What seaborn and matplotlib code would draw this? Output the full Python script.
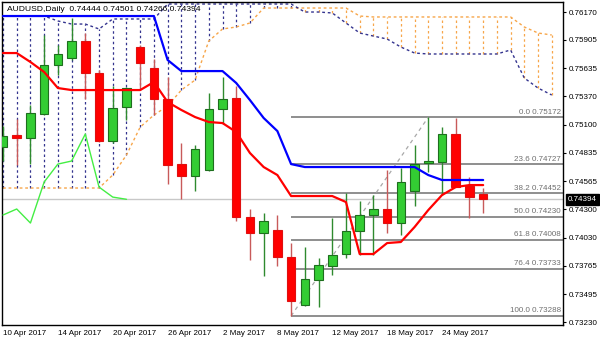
import numpy as np
import pandas as pd
import matplotlib
matplotlib.use("Agg")
import matplotlib.pyplot as plt
import matplotlib.transforms as mtransforms
import seaborn as sns

# ---------------- data ----------------
symbol_title = "AUDUSD,Daily  0.74444 0.74501 0.74266 0.74394"
tick_bars = [0, 4, 8, 12, 16, 20, 24, 28, 32]
tick_labels = ["10 Apr 2017", "14 Apr 2017", "20 Apr 2017", "26 Apr 2017",
               "2 May 2017", "8 May 2017", "12 May 2017", "18 May 2017", "24 May 2017"]

open_ = [0.74890, 0.75003, 0.74975, 0.75203, 0.75667, 0.75734, 0.75895, 0.75591, 0.74947, 0.75269,
         0.75838, 0.75639, 0.75345, 0.74728, 0.74615, 0.74672, 0.75250, 0.75354, 0.74226, 0.74074,
         0.74102, 0.73846, 0.73391, 0.73628, 0.73761, 0.73875, 0.74093, 0.74245, 0.74302, 0.74169,
         0.74472, 0.74738, 0.74747, 0.75013, 0.74520, 0.74444]
high = [0.75089, 0.75155, 0.75288, 0.75952, 0.75857, 0.76113, 0.75971, 0.75620, 0.75468, 0.75459,
        0.75857, 0.75724, 0.75554, 0.74928, 0.74909, 0.75402, 0.75554, 0.75468, 0.74302, 0.74264,
        0.74245, 0.73979, 0.73941, 0.73837, 0.74216, 0.74453, 0.74378, 0.74434, 0.74672, 0.74690,
        0.74909, 0.75172, 0.75079, 0.75165, 0.74605, 0.74501]
low = [0.74757, 0.74719, 0.74728, 0.75193, 0.75573, 0.75715, 0.75345, 0.74937, 0.74928, 0.75146,
       0.75449, 0.75193, 0.74539, 0.74396, 0.74472, 0.74662, 0.75108, 0.74188, 0.73818, 0.73666,
       0.73761, 0.73288, 0.73382, 0.73372, 0.73676, 0.73837, 0.73865, 0.73865, 0.74074, 0.74055,
       0.74330, 0.74653, 0.74434, 0.74510, 0.74216, 0.74266]
close = [0.74994, 0.74975, 0.75212, 0.75667, 0.75772, 0.75895, 0.75591, 0.74947, 0.75260, 0.75449,
         0.75686, 0.75345, 0.74719, 0.74615, 0.74871, 0.75250, 0.75345, 0.74226, 0.74074, 0.74188,
         0.73846, 0.73429, 0.73638, 0.73771, 0.73865, 0.74093, 0.74245, 0.74302, 0.74169, 0.74558,
         0.74728, 0.74757, 0.75013, 0.74510, 0.74415, 0.74394]

tenkan = [0.75781, 0.75781, 0.75696, 0.75601, 0.75449, 0.75430, 0.75430, 0.75430, 0.75430, 0.75430,
          0.75430, 0.75506, 0.75316, 0.75241, 0.75174, 0.75127, 0.75117, 0.75032, 0.74833, 0.74700,
          0.74624, 0.74425, 0.74425, 0.74425, 0.74425, 0.74368, 0.73875, 0.73875, 0.73979, 0.73989,
          0.74131, 0.74292, 0.74434, 0.74510, 0.74529, 0.74529]
kijun = [0.76132] * 12 + [0.75715] + [0.75610] * 4 + [0.75497, 0.75335, 0.75165, 0.75041, 0.74728] \
        + [0.74700] * 9 + [0.74624] + [0.74577] * 4
span_a = [0.74501] * 8 + [0.74624, 0.74814, 0.75079, 0.75193, 0.75279, 0.75430, 0.75525, 0.75895,
                          0.76009, 0.76028, 0.76066] + [0.76208] * 7 + [0.76132] + [0.76123] * 11 \
         + [0.76028, 0.75971, 0.75952]
span_b = [0.76132] * 4 + [0.76085, 0.76056, 0.76056, 0.76009] + [0.76104] * 4 + [0.76246] * 10 \
         + [0.76170, 0.76170, 0.76161, 0.76066, 0.75971, 0.75942, 0.75914, 0.75838, 0.75781] \
         + [0.75772] * 6 + [0.75810, 0.75544, 0.75449, 0.75383]
chikou_shift = 26

fib_ratios = ["0.0", "23.6", "38.2", "50.0", "61.8", "76.4", "100.0"]
fib_prices = [0.75172, 0.74727, 0.74452, 0.74230, 0.74008, 0.73733, 0.73288]
fib_start_bar = 21
trend_bars = [21, 31]
trend_prices = [0.73288, 0.75172]

price_ticks = [0.76170, 0.75905, 0.75635, 0.75370, 0.75100, 0.74835, 0.74565,
               0.74300, 0.74030, 0.73765, 0.73495, 0.73230]
last_price = 0.74394

# ---------------- frames ----------------
n = len(close)
bars = pd.DataFrame({"bar": np.arange(n), "open": open_, "high": high, "low": low,
                     "close": close, "tenkan": tenkan, "kijun": kijun})
bars["chikou"] = bars["close"].shift(-chikou_shift)
cloud = pd.DataFrame({"bar": np.arange(len(span_a)), "a": span_a, "b": span_b})

# ---------------- style ----------------
sns.set_theme(style="white")
plt.rcParams["font.family"] = ["Liberation Sans", "DejaVu Sans"]
FS = 5.8

fig = plt.figure(figsize=(6.0, 3.43), dpi=100)
ax = fig.add_axes([2 / 600, 18 / 343, 561 / 600, 323 / 343])
ax.set_facecolor("white")

NAVY = "#34348f"
SANDY = "#f7a64a"

# cloud hatching
for _, r in cloud.iterrows():
    col = NAVY if r["b"] > r["a"] else SANDY
    ax.vlines(r["bar"], min(r["a"], r["b"]), max(r["a"], r["b"]), colors=col,
              linestyles=(0, (2, 2.2)), linewidth=0.9, zorder=1)
sns.lineplot(data=cloud, x="bar", y="a", ax=ax, color=SANDY, linewidth=1.0,
             linestyle=(0, (2, 2)), legend=False, zorder=1.5)
sns.lineplot(data=cloud, x="bar", y="b", ax=ax, color=NAVY, linewidth=1.0,
             linestyle=(0, (2, 2)), legend=False, zorder=1.5)

# current price line
ax.axhline(last_price, color="#c8c8c8", linewidth=1.0, zorder=1)

# fibonacci levels
xmax = 40.82
for lab, p in zip(fib_ratios, fib_prices):
    ax.hlines(p, fib_start_bar, xmax, colors="#8e8e8e", linewidth=1.4, zorder=1.2)
    ax.annotate(f"{lab} {p:.5f}", xy=(1.0, p), xycoords=("axes fraction", "data"),
                xytext=(-1.5, 1.2), textcoords="offset points", ha="right", va="bottom",
                fontsize=FS, color="#6e6e6e", zorder=5)
ax.plot(trend_bars, trend_prices, color="#a8a8a8", linewidth=0.9,
        linestyle=(0, (3, 3)), zorder=2)

# candles
up = bars["close"] >= bars["open"]
body_lo = np.minimum(bars["open"], bars["close"])
body_h = np.abs(bars["close"] - bars["open"])
ax.vlines(bars["bar"][up], bars["low"][up], bars["high"][up], colors="#2f8a2f", linewidth=1.0, zorder=3)
ax.vlines(bars["bar"][~up], bars["low"][~up], bars["high"][~up], colors="#c85a5a", linewidth=1.0, zorder=3)
ax.bar(bars["bar"][up], body_h[up], bottom=body_lo[up], width=0.62, color="#33cc33",
       edgecolor="#1e6e1e", linewidth=0.8, zorder=3.2)
ax.bar(bars["bar"][~up], body_h[~up], bottom=body_lo[~up], width=0.62, color="#ff0000",
       edgecolor="#e01010", linewidth=0.8, zorder=3.2)

# ichimoku lines
sns.lineplot(data=bars, x="bar", y="tenkan", ax=ax, color="#ff0000", linewidth=1.6,
             legend=False, zorder=4)
sns.lineplot(data=bars, x="bar", y="kijun", ax=ax, color="#0000ff", linewidth=1.6,
             legend=False, zorder=4)
sns.lineplot(data=bars.dropna(subset=["chikou"]), x="bar", y="chikou", ax=ax,
             color="#44ee44", linewidth=1.0, legend=False, zorder=4)

# axes
ax.set_xlim(-0.073, xmax)
ax.set_ylim(0.73202, 0.76265)
ax.set_xlabel("")
ax.set_ylabel("")
ax.set_xticks(tick_bars)
ax.set_xticklabels(tick_labels, ha="left")
ax.yaxis.tick_right()
ax.set_yticks(price_ticks)
ax.set_yticklabels([f"{v:.5f}" for v in price_ticks])
ax.tick_params(axis="both", labelsize=FS, colors="black", length=2.5, width=0.8,
               direction="out", pad=1.5)
ax.tick_params(axis="x", pad=1.0)
for s in ax.spines.values():
    s.set_color("black")
    s.set_linewidth(1.0)
ax.grid(False)

ax.text(0.009, 0.978, symbol_title, transform=ax.transAxes, ha="left", va="center",
        fontsize=6.1, color="black", zorder=6)

trans = mtransforms.blended_transform_factory(ax.transAxes, ax.transData)
ax.text(1.0085, last_price, f"{last_price:.5f}", transform=trans, ha="left", va="center",
        fontsize=FS, color="white", zorder=6, clip_on=False,
        bbox=dict(boxstyle="square,pad=0.28", facecolor="black", edgecolor="black"))

fig.savefig("out.png", dpi=100, facecolor="white")
